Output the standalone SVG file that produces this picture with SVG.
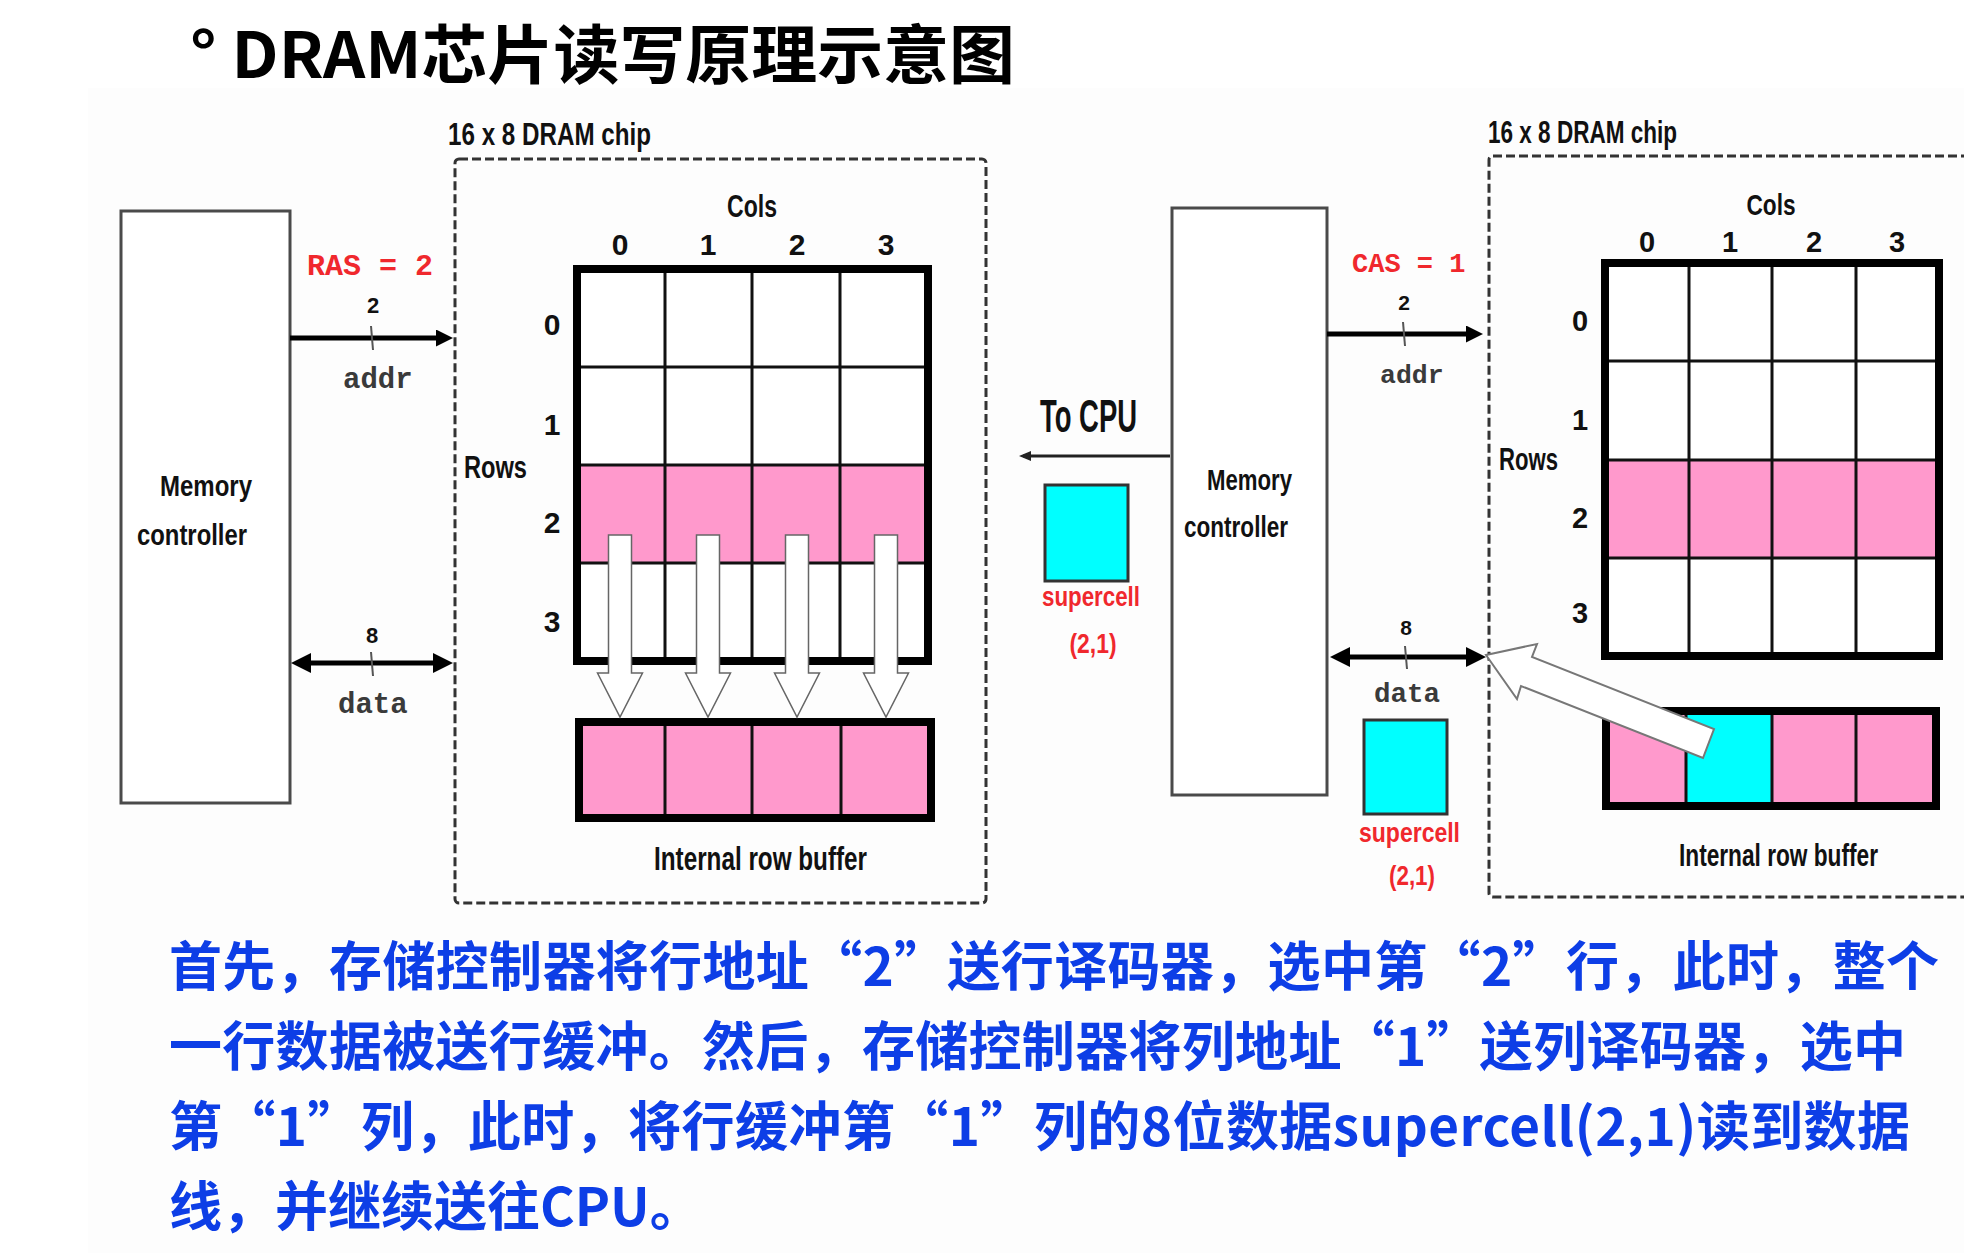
<svg xmlns="http://www.w3.org/2000/svg" width="1964" height="1253" viewBox="0 0 1964 1253">
<style>
.lbl{font-family:"Liberation Sans",Arial,sans-serif;font-weight:bold;fill:#111}
.mono{font-family:"Liberation Mono","Courier New",monospace;font-weight:bold}
.gr{fill:#3a3a3a}
.red{fill:#f0282d}
.cn{font-family:"Noto Sans CJK SC",sans-serif;font-weight:bold}
.cap{fill:#0d3ee6;font-size:53px}
.box{fill:#fff;stroke:#4a4a4a;stroke-width:3}
.dash{fill:none;stroke:#333;stroke-width:3;stroke-dasharray:9 4}
.border{fill:none;stroke:#000;stroke-width:8}
.gl{stroke:#111;stroke-width:3}
.pink{fill:#ff99cc}
.cyan{fill:#00ffff}
.cell{fill:#00ffff;stroke:#333;stroke-width:3}
.bus{stroke:#000;stroke-width:5;fill:none}
.tick{stroke:#555;stroke-width:2}
.blk{fill:#fff;stroke:#666;stroke-width:1.5}
</style>
<defs>
<marker id="ah" viewBox="0 0 17 17" refX="11" refY="8.5" markerWidth="17" markerHeight="17" markerUnits="userSpaceOnUse" orient="auto-start-reverse"><path d="M0,0 L17,8.5 L0,17 z" fill="#000"/></marker>
<marker id="ah2" viewBox="0 0 20 20" refX="14" refY="10" markerWidth="20" markerHeight="20" markerUnits="userSpaceOnUse" orient="auto-start-reverse"><path d="M0,0 L20,10 L0,20 z" fill="#000"/></marker>
<marker id="ahs" viewBox="0 0 12 10" refX="8" refY="5" markerWidth="12" markerHeight="10" markerUnits="userSpaceOnUse" orient="auto"><path d="M0,0 L12,5 L0,10 z" fill="#222"/></marker>
<path id="down" d="M-11.5,0 H11.5 V138 H22.5 L0,182 L-22.5,138 H-11.5 Z"/>
</defs>
<rect x="0" y="0" width="1964" height="1253" fill="#fff"/>
<rect x="88" y="88" width="1876" height="1165" fill="#fdfdfd"/>

<g id="title">
<text class="cn" x="190" y="78" font-size="64" textLength="825" lengthAdjust="spacingAndGlyphs" fill="#000">° DRAM芯片读写原理示意图</text>
</g>

<g id="memctrl-left">
<rect class="box" x="121" y="211" width="169" height="592"/>
<text class="lbl" x="160" y="496" font-size="30" textLength="92" lengthAdjust="spacingAndGlyphs">Memory</text>
<text class="lbl" x="137" y="545" font-size="30" textLength="110" lengthAdjust="spacingAndGlyphs">controller</text>
</g>

<g id="chip-left">
<text class="lbl" x="448" y="145" font-size="32" textLength="203" lengthAdjust="spacingAndGlyphs">16 x 8 DRAM chip</text>
<rect class="dash" x="455" y="159" width="531" height="744" rx="4"/>
<text class="lbl" x="752" y="217" font-size="31" text-anchor="middle" textLength="50" lengthAdjust="spacingAndGlyphs">Cols</text>
<g class="lbl" font-size="30" text-anchor="middle">
<text x="620" y="255">0</text><text x="708" y="255">1</text><text x="797" y="255">2</text><text x="886" y="255">3</text>
<text x="552" y="335">0</text><text x="552" y="435">1</text><text x="552" y="533">2</text><text x="552" y="632">3</text>
</g>
<text class="lbl" x="464" y="478" font-size="32" textLength="63" lengthAdjust="spacingAndGlyphs">Rows</text>
<rect x="577" y="269" width="351" height="392" fill="#fff"/>
<rect class="pink" x="577" y="465" width="351" height="98"/>
<g class="gl">
<line x1="665" y1="269" x2="665" y2="661"/><line x1="752" y1="269" x2="752" y2="661"/><line x1="840" y1="269" x2="840" y2="661"/>
<line x1="577" y1="367" x2="928" y2="367"/><line x1="577" y1="465" x2="928" y2="465"/><line x1="577" y1="563" x2="928" y2="563"/>
</g>
<rect class="border" x="577" y="269" width="351" height="392"/>
<rect class="pink" x="579" y="722" width="352" height="96"/>
<g class="gl">
<line x1="665" y1="722" x2="665" y2="818"/><line x1="752" y1="722" x2="752" y2="818"/><line x1="841" y1="722" x2="841" y2="818"/>
</g>
<rect class="border" x="579" y="722" width="352" height="96"/>
<text class="lbl" x="654" y="870" font-size="33" textLength="213" lengthAdjust="spacingAndGlyphs">Internal row buffer</text>
</g>

<g id="supercell-mid">
<rect class="cell" x="1045" y="485" width="83" height="96"/>
<text class="lbl red" x="1042" y="606" font-size="28" textLength="98" lengthAdjust="spacingAndGlyphs">supercell</text>
<text class="lbl red" x="1093" y="653" font-size="28" text-anchor="middle" textLength="47" lengthAdjust="spacingAndGlyphs">(2,1)</text>
</g>

<g id="memctrl-right">
<rect class="box" x="1172" y="208" width="155" height="587"/>
<text class="lbl" x="1207" y="490" font-size="29" textLength="85" lengthAdjust="spacingAndGlyphs">Memory</text>
<text class="lbl" x="1184" y="537" font-size="29" textLength="104" lengthAdjust="spacingAndGlyphs">controller</text>
</g>

<g id="supercell-right">
<rect class="cell" x="1364" y="720" width="83" height="94"/>
<text class="lbl red" x="1359" y="842" font-size="28" textLength="101" lengthAdjust="spacingAndGlyphs">supercell</text>
<text class="lbl red" x="1412" y="885" font-size="28" text-anchor="middle" textLength="46" lengthAdjust="spacingAndGlyphs">(2,1)</text>
</g>

<g id="chip-right">
<text class="lbl" x="1488" y="143" font-size="31" textLength="189" lengthAdjust="spacingAndGlyphs">16 x 8 DRAM chip</text>
<path class="dash" d="M1970,156 H1493 Q1489,156 1489,160 V893 Q1489,897 1493,897 H1970"/>
<text class="lbl" x="1771" y="215" font-size="30" text-anchor="middle" textLength="49" lengthAdjust="spacingAndGlyphs">Cols</text>
<g class="lbl" font-size="29" text-anchor="middle">
<text x="1647" y="252">0</text><text x="1730" y="252">1</text><text x="1814" y="252">2</text><text x="1897" y="252">3</text>
<text x="1580" y="331">0</text><text x="1580" y="430">1</text><text x="1580" y="528">2</text><text x="1580" y="623">3</text>
</g>
<text class="lbl" x="1499" y="470" font-size="31" textLength="59" lengthAdjust="spacingAndGlyphs">Rows</text>
<rect x="1605" y="263" width="334" height="393" fill="#fff"/>
<rect class="pink" x="1605" y="460" width="334" height="98"/>
<g class="gl">
<line x1="1689" y1="263" x2="1689" y2="656"/><line x1="1772" y1="263" x2="1772" y2="656"/><line x1="1856" y1="263" x2="1856" y2="656"/>
<line x1="1605" y1="361" x2="1939" y2="361"/><line x1="1605" y1="460" x2="1939" y2="460"/><line x1="1605" y1="558" x2="1939" y2="558"/>
</g>
<rect class="border" x="1605" y="263" width="334" height="393"/>
<rect class="pink" x="1606" y="711" width="330" height="95"/>
<rect class="cyan" x="1686" y="711" width="86" height="95"/>
<g class="gl">
<line x1="1686" y1="711" x2="1686" y2="806"/><line x1="1772" y1="711" x2="1772" y2="806"/><line x1="1856" y1="711" x2="1856" y2="806"/>
</g>
<rect class="border" x="1606" y="711" width="330" height="95"/>
<text class="lbl" x="1679" y="866" font-size="31" textLength="199" lengthAdjust="spacingAndGlyphs">Internal row buffer</text>
</g>

<g id="connectors">
<line class="bus" x1="290" y1="338" x2="447" y2="338" marker-end="url(#ah)"/>
<line class="tick" x1="371" y1="326" x2="373" y2="350"/>
<text class="lbl" x="373" y="313" font-size="22" text-anchor="middle">2</text>
<text class="mono red" x="307" y="275" font-size="30">RAS = 2</text>
<text class="mono gr" x="343" y="388" font-size="29">addr</text>

<line class="bus" x1="297" y1="663" x2="447" y2="663" stroke-width="6" marker-start="url(#ah2)" marker-end="url(#ah2)"/>
<line class="tick" x1="371" y1="652" x2="373" y2="676"/>
<text class="lbl" x="372" y="643" font-size="22" text-anchor="middle">8</text>
<text class="mono gr" x="338" y="713" font-size="29">data</text>

<g class="blk">
<use href="#down" x="620" y="535"/><use href="#down" x="708" y="535"/><use href="#down" x="797" y="535"/><use href="#down" x="886" y="535"/>
</g>

<line x1="1170" y1="456" x2="1023" y2="456" stroke="#222" stroke-width="3" marker-end="url(#ahs)"/>
<text class="lbl" x="1040" y="432" font-size="46" textLength="97" lengthAdjust="spacingAndGlyphs">To CPU</text>

<line class="bus" x1="1327" y1="334" x2="1477" y2="334" marker-end="url(#ah)"/>
<line class="tick" x1="1403" y1="322" x2="1405" y2="346"/>
<text class="lbl" x="1404" y="310" font-size="21" text-anchor="middle">2</text>
<text class="mono red" x="1352" y="272" font-size="27">CAS = 1</text>
<text class="mono gr" x="1380" y="383" font-size="26.5">addr</text>

<line class="bus" x1="1336" y1="657" x2="1480" y2="657" stroke-width="6" marker-start="url(#ah2)" marker-end="url(#ah2)"/>
<line class="tick" x1="1405" y1="646" x2="1407" y2="669"/>
<text class="lbl" x="1406" y="635" font-size="21" text-anchor="middle">8</text>
<text class="mono gr" x="1374" y="702" font-size="27.5">data</text>

<polygon points="1486,655 1537,644 1532,657 1714,729 1703,758 1521,686 1517,699" fill="#fff" stroke="#777" stroke-width="2"/>
</g>

<g id="caption" class="cn cap">
<text x="169" y="986" textLength="1770" lengthAdjust="spacing">首先，存储控制器将行地址“2”送行译码器，选中第“2”行，此时，整个</text>
<text x="169" y="1066" textLength="1737" lengthAdjust="spacing">一行数据被送行缓冲。然后，存储控制器将列地址“1”送列译码器，选中</text>
<text x="169" y="1146" textLength="1741" lengthAdjust="spacing">第“1”列，此时，将行缓冲第“1”列的8位数据supercell(2,1)读到数据</text>
<text x="169" y="1226">线，并继续送往CPU。</text>
</g>
</svg>
